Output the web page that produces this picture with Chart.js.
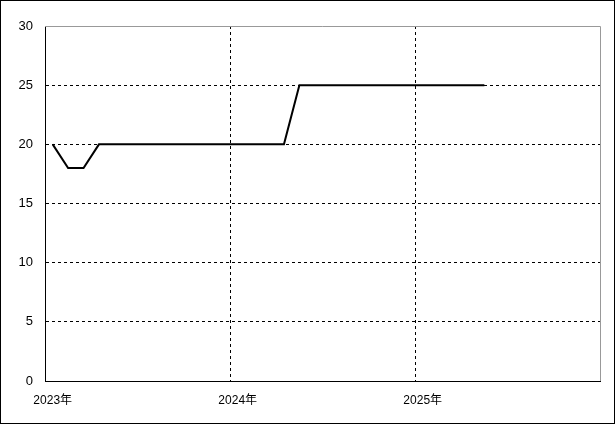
<!DOCTYPE html>
<html>
<head>
<meta charset="utf-8">
<script src="https://cdn.jsdelivr.net/npm/chart.js@4"></script>
<style>
  html, body { margin: 0; padding: 0; background: #fff; }
  #wrap { width: 615px; height: 424px; }
</style>
</head>
<body>
<div id="wrap"><canvas id="chart" width="615" height="424"></canvas></div>
<script>
// 月ごとのカテゴリ (3年分)
const months = [
  '2023-01','2023-02','2023-03','2023-04','2023-05','2023-06','2023-07','2023-08','2023-09','2023-10','2023-11','2023-12',
  '2024-01','2024-02','2024-03','2024-04','2024-05','2024-06','2024-07','2024-08','2024-09','2024-10','2024-11','2024-12',
  '2025-01','2025-02','2025-03','2025-04','2025-05','2025-06','2025-07','2025-08','2025-09','2025-10','2025-11','2025-12'
];
// 値
const values = [
  20, 18, 18, 20, 20, 20, 20, 20, 20, 20, 20, 20,
  20, 20, 20, 20, 25, 25, 25, 25, 25, 25, 25, 25,
  25, 25, 25, 25, 25
];
const yTicks = [0, 5, 10, 15, 20, 25, 30];

const fontFamily = '"Liberation Sans", "Noto Sans CJK JP", sans-serif';

// 枠線 (上・右はグレー、外枠は黒)
const framePlugin = {
  id: 'frame',
  afterDraw(chart) {
    const c = chart.ctx;
    const a = chart.chartArea;
    c.save();
    c.lineWidth = 1;
    c.strokeStyle = '#999';
    c.beginPath();
    c.moveTo(a.left, Math.round(a.top) + 0.5);
    c.lineTo(Math.round(a.right) + 0.5, Math.round(a.top) + 0.5);
    c.lineTo(Math.round(a.right) + 0.5, a.bottom);
    c.stroke();
    c.strokeStyle = '#000';
    c.strokeRect(0.5, 0.5, chart.width - 1, chart.height - 1);
    c.restore();
  }
};

const ctx = document.getElementById('chart').getContext('2d');
new Chart(ctx, {
  type: 'line',
  data: {
    labels: months,
    datasets: [{
      data: values,
      borderColor: '#000',
      borderWidth: 2,
      pointRadius: 0,
      tension: 0,
      fill: false
    }]
  },
  plugins: [framePlugin],
  options: {
    responsive: false,
    animation: false,
    layout: { padding: { left: 0, top: 26, right: 15, bottom: 0 } },
    plugins: { legend: { display: false }, tooltip: { enabled: false } },
    scales: {
      x: {
        type: 'category',
        offset: true,
        grid: {
          offset: true,
          drawTicks: false,
          color: (c) => (c.index > 0 && c.index < months.length && c.index % 12 === 0) ? '#000' : 'rgba(0,0,0,0)'
        },
        border: { color: '#000', width: 1, dash: [3, 3] },
        ticks: {
          autoSkip: false,
          maxRotation: 0,
          padding: 12,
          color: '#000',
          font: { family: fontFamily, size: 12 },
          callback: function (v, i) {
            const m = months[i];
            return m.endsWith('-01') ? m.slice(0, 4) + '年' : '';
          }
        },
        afterFit: (s) => { s.height = 43; }
      },
      y: {
        min: 0,
        max: 30,
        afterBuildTicks: (s) => { s.ticks = yTicks.map(v => ({ value: v })); },
        grid: {
          drawTicks: false,
          color: (c) => (c.tick && c.tick.value > 0 && c.tick.value < 30) ? '#000' : 'rgba(0,0,0,0)'
        },
        border: { color: '#000', width: 1, dash: [3, 3] },
        ticks: {
          padding: 12,
          color: '#000',
          font: { family: fontFamily, size: 13 }
        },
        afterFit: (s) => { s.width = 45; }
      }
    }
  }
});
</script>
</body>
</html>
